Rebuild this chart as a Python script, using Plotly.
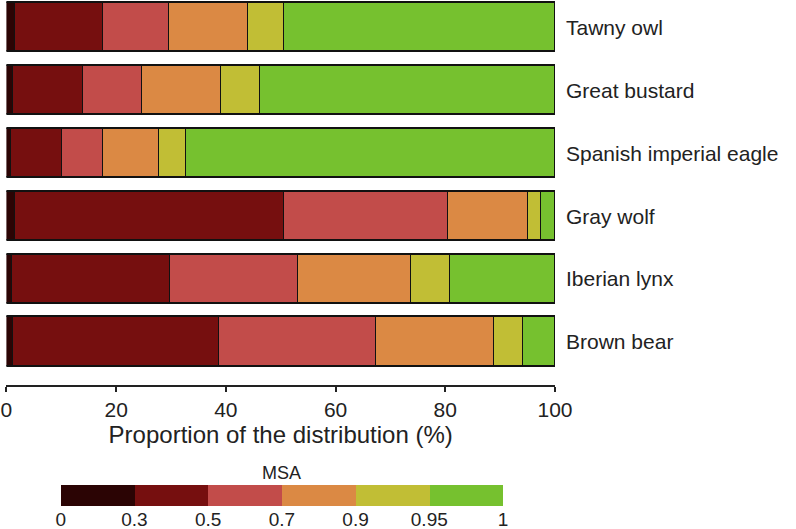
import plotly.graph_objects as go

species = ["Tawny owl", "Great bustard", "Spanish imperial eagle", "Gray wolf", "Iberian lynx", "Brown bear"]
msa_classes = ["0-0.3", "0.3-0.5", "0.5-0.7", "0.7-0.9", "0.9-0.95", "0.95-1"]
msa_bounds = ["0", "0.3", "0.5", "0.7", "0.9", "0.95", "1"]
colors = ["#2b0404", "#760f0f", "#c24c4a", "#db8944", "#c1be35", "#76c12f"]

# proportion of the distribution (%) in each MSA class, per species
cls_0_03 = [1.6, 1.2, 1.0, 1.6, 1.1, 1.2]
cls_03_05 = [16.1, 12.8, 9.2, 49.0, 28.8, 37.6]
cls_05_07 = [12.0, 10.8, 7.5, 30.0, 23.3, 28.6]
cls_07_09 = [14.5, 14.4, 10.1, 14.6, 20.7, 21.5]
cls_09_095 = [6.5, 7.1, 5.0, 2.3, 7.0, 5.4]
cls_095_1 = [49.3, 53.7, 67.2, 2.5, 19.1, 5.7]
series = [cls_0_03, cls_03_05, cls_05_07, cls_07_09, cls_09_095, cls_095_1]

W, H = 796, 529
ypos = list(range(len(species) - 1, -1, -1))  # top to bottom

fig = go.Figure()
for name, vals, col in zip(msa_classes, series, colors):
    fig.add_trace(go.Bar(
        x=vals, y=ypos, orientation="h", name=name,
        marker=dict(color=col, line=dict(color="#111111", width=1.8)),
        width=0.78, showlegend=False, hoverinfo="x+name",
    ))

# discrete MSA key
for i, (name, col) in enumerate(zip(msa_classes, colors)):
    fig.add_trace(go.Bar(
        x=[1], y=[0], orientation="h", name=name,
        marker=dict(color=col, line=dict(width=0)),
        width=1, showlegend=False, xaxis="x2", yaxis="y2", hoverinfo="name",
    ))

font_fam = "Liberation Sans, Arial, sans-serif"
fig.update_layout(
    width=W, height=H,
    margin=dict(l=0, r=0, t=0, b=0, autoexpand=False),
    paper_bgcolor="white", plot_bgcolor="white",
    barmode="stack", bargap=0,
    font=dict(family=font_fam, color="#222222", size=17),
    xaxis=dict(
        domain=[6.4 / W, 555 / W], range=[0, 100],
        tickvals=[0, 20, 40, 60, 80, 100],
        showgrid=False, zeroline=False, automargin=False,
        showline=True, linecolor="#222222", linewidth=1.5,
        ticks="outside", ticklen=5, tickwidth=1.5, tickcolor="#222222",
        tickfont=dict(size=21),
        title=dict(text="Proportion of the distribution (%)", font=dict(size=24), standoff=2),
        anchor="y",
    ),
    yaxis=dict(
        domain=[1 - 385 / H, 1.0], range=[-0.684, 5.437],
        tickmode="array", tickvals=ypos, ticktext=species,
        side="right", showgrid=False, zeroline=False, showline=False, automargin=False,
        ticks="", ticklabelstandoff=10, tickfont=dict(size=21),
        anchor="x",
    ),
    xaxis2=dict(
        domain=[60.7 / W, 503 / W], range=[0, 6],
        tickmode="array", tickvals=list(range(7)), ticktext=msa_bounds,
        showgrid=False, zeroline=False, showline=False, ticks="", automargin=False,
        tickfont=dict(size=19), anchor="y2",
    ),
    yaxis2=dict(
        domain=[1 - 506 / H, 1 - 485 / H], range=[-0.5, 0.5],
        showticklabels=False, showgrid=False, zeroline=False, showline=False,
        automargin=False, anchor="x2",
    ),
    annotations=[dict(
        text="MSA", x=(60.7 + 503) / 2 / W, y=1 - 473 / H,
        xref="paper", yref="paper", showarrow=False,
        font=dict(size=18, color="#222222"), xanchor="center", yanchor="middle",
    )],
)

fig.write_html(
    "out.html",
    config={"displayModeBar": False},
    post_script="document.body.style.margin='0';document.body.style.overflow='hidden';",
)
